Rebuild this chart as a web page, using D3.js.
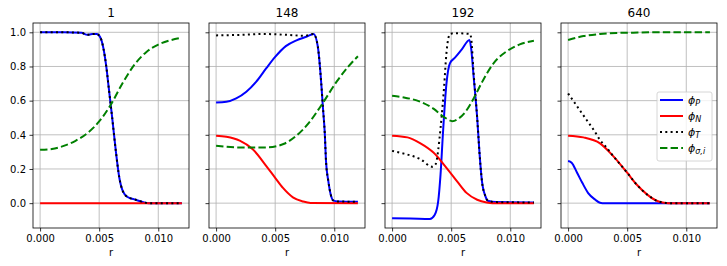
<!DOCTYPE html>
<html><head><meta charset="utf-8">
<script src="https://cdn.jsdelivr.net/npm/d3@7"></script>
<style>body{margin:0;background:#fff}svg{font-family:"DejaVu Sans",sans-serif}</style>
</head><body><svg id="c" width="727" height="266"></svg>
<script>
const titles = ["1", "148", "192", "640"];
const xTicks = [0, 0.005, 0.010];
const yTicks = [0, 0.2, 0.4, 0.6, 0.8, 1.0];
const seriesNames = ["P", "N", "T", "σ,i"];

// Panel 1 (step 1)
const p1_P = [[0,1],[0.002,1],[0.0035,0.997],[0.004,0.985],[0.0044,0.99],[0.0048,0.99],[0.0051,0.97],[0.0056,0.8],[0.0058,0.68],[0.0061,0.5],[0.0064,0.31],[0.0067,0.15],[0.007,0.07],[0.0074,0.036],[0.0081,0.02],[0.0088,0.004],[0.0092,0],[0.012,0]];
const p1_N = [[0,0],[0.012,0]];
const p1_T = p1_P;
const p1_S = [[0,0.312],[0.001,0.317],[0.002,0.335],[0.003,0.365],[0.004,0.41],[0.005,0.478],[0.006,0.578],[0.007,0.705],[0.008,0.812],[0.009,0.885],[0.010,0.928],[0.011,0.953],[0.012,0.968]];

// Panel 2 (step 148)
const p2_P = [[0,0.589],[0.00087,0.593],[0.0017,0.613],[0.00256,0.652],[0.0034,0.711],[0.00425,0.79],[0.005,0.856],[0.0059,0.919],[0.0068,0.953],[0.00763,0.974],[0.00825,0.99],[0.0086,0.92],[0.0089,0.70],[0.00904,0.56],[0.0092,0.405],[0.0093,0.247],[0.0095,0.128],[0.0097,0.05],[0.0099,0.016],[0.0103,0.01],[0.012,0.008]];
const p2_N = [[0,0.395],[0.00087,0.389],[0.002,0.366],[0.0031,0.316],[0.00425,0.217],[0.005,0.148],[0.00566,0.089],[0.0065,0.034],[0.00735,0.01],[0.008,0.001],[0.012,0]];
const p2_T = [[0,0.982],[0.002,0.985],[0.004,0.99],[0.006,0.985],[0.0075,0.98],[0.00825,0.99],[0.0086,0.92],[0.0089,0.70],[0.00904,0.56],[0.0092,0.405],[0.0093,0.247],[0.0095,0.128],[0.0097,0.05],[0.0099,0.016],[0.0103,0.01],[0.012,0.008]];
const p2_S = [[0,0.336],[0.002,0.326],[0.00425,0.326],[0.0057,0.346],[0.0068,0.395],[0.0079,0.474],[0.009,0.583],[0.0102,0.711],[0.0112,0.80],[0.012,0.86]];

// Panel 3 (step 192)
const p3_P = [[0,-0.089],[0.00155,-0.09],[0.0032,-0.093],[0.0036,-0.07],[0.0039,0.01],[0.0041,0.168],[0.0043,0.405],[0.0046,0.70],[0.0049,0.82],[0.0053,0.85],[0.0059,0.90],[0.00655,0.955],[0.0067,0.90],[0.0069,0.74],[0.0072,0.50],[0.0074,0.29],[0.0076,0.13],[0.0079,0.04],[0.0081,0.014],[0.0088,0.006],[0.012,0.004]];
const p3_N = [[0,0.395],[0.0013,0.385],[0.0024,0.35],[0.0035,0.296],[0.0046,0.207],[0.0055,0.128],[0.0063,0.06],[0.0072,0.02],[0.008,0.004],[0.0085,0],[0.012,0]];
const p3_T = [[0,0.306],[0.001,0.29],[0.0024,0.257],[0.0034,0.213],[0.0037,0.23],[0.0039,0.31],[0.0041,0.44],[0.0044,0.68],[0.0046,0.88],[0.0049,0.99],[0.0053,0.995],[0.0066,0.99],[0.0067,0.96],[0.0069,0.76],[0.0072,0.50],[0.0074,0.29],[0.0076,0.13],[0.0079,0.04],[0.0081,0.014],[0.0088,0.006],[0.012,0.004]];
const p3_S = [[0,0.628],[0.001,0.619],[0.0024,0.593],[0.0035,0.553],[0.0044,0.504],[0.0051,0.48],[0.0056,0.494],[0.0062,0.534],[0.0069,0.613],[0.0077,0.72],[0.0086,0.82],[0.0097,0.889],[0.0108,0.929],[0.012,0.95]];

// Panel 4 (step 640)
const p4_P = [[0,0.247],[0.0003,0.237],[0.00076,0.178],[0.0012,0.119],[0.0017,0.059],[0.0023,0.02],[0.0027,0.002],[0.0029,0],[0.012,0]];
const p4_N = [[0,0.395],[0.0013,0.385],[0.0027,0.35],[0.0038,0.277],[0.005,0.178],[0.0058,0.109],[0.0067,0.05],[0.0075,0.014],[0.008,0.004],[0.0085,0],[0.012,0]];
const p4_T = [[0,0.642],[0.0005,0.593],[0.001,0.543],[0.0016,0.484],[0.0022,0.425],[0.0027,0.37],[0.0032,0.33],[0.0038,0.277],[0.005,0.178],[0.0058,0.109],[0.0067,0.05],[0.0075,0.014],[0.008,0.004],[0.0085,0],[0.012,0]];
const p4_S = [[0,0.955],[0.0013,0.978],[0.0027,0.99],[0.0041,0.996],[0.0055,0.998],[0.007,1],[0.012,1]];

const panels = [
  {P:p1_P,N:p1_N,T:p1_T,S:p1_S},
  {P:p2_P,N:p2_N,T:p2_T,S:p2_S},
  {P:p3_P,N:p3_N,T:p3_T,S:p3_S},
  {P:p4_P,N:p4_N,T:p4_T,S:p4_S}
];

const svg = d3.select("#c");
const lefts = [33, 209, 385, 561];
const W = 156, plotTop = 23, plotBottom = 228;
const x = d3.scaleLinear().domain([-0.0006, 0.0126]);
const y = d3.scaleLinear().domain([-0.1455, 1.0545]).range([plotBottom, plotTop]);

const styles = {
  P:{color:"#0000ff", dash:null},
  N:{color:"#ff0000", dash:null},
  T:{color:"#000000", dash:"2,3.3"},
  S:{color:"#008000", dash:"7.4,3.2"}
};
const order = ["P","N","T","S"];

panels.forEach((pd, i) => {
  const L = lefts[i];
  const xs = x.copy().range([L, L + W]);
  const g = svg.append("g");
  g.selectAll(".gx").data(xTicks).enter().append("line")
    .attr("x1", d => xs(d)).attr("x2", d => xs(d)).attr("y1", plotTop).attr("y2", plotBottom)
    .attr("stroke", "#b0b0b0").attr("stroke-width", 0.8);
  g.selectAll(".gy").data(yTicks).enter().append("line")
    .attr("y1", d => y(d)).attr("y2", d => y(d)).attr("x1", L).attr("x2", L + W)
    .attr("stroke", "#b0b0b0").attr("stroke-width", 0.8);
  const clip = "clip" + i;
  svg.append("clipPath").attr("id", clip).append("rect")
    .attr("x", L).attr("y", plotTop).attr("width", W).attr("height", plotBottom - plotTop);
  const lg = g.append("g").attr("clip-path", `url(#${clip})`);
  const line = d3.line().x(d => xs(d[0])).y(d => y(d[1])).curve(d3.curveMonotoneX);
  order.forEach(k => {
    lg.append("path").attr("d", line(pd[k])).attr("fill", "none")
      .attr("stroke", styles[k].color).attr("stroke-width", 2)
      .attr("stroke-dasharray", styles[k].dash);
  });
  const ax = g.append("g").attr("transform", `translate(0,${plotBottom})`)
    .call(d3.axisBottom(xs).tickValues(xTicks).tickFormat(d3.format(".3f")).tickSize(3.5).tickPadding(3.5));
  const ay = g.append("g").attr("transform", `translate(${L},0)`)
    .call(d3.axisLeft(y).tickValues(yTicks).tickFormat(i === 0 ? d3.format(".1f") : () => "").tickSize(3.5).tickPadding(3.5));
  [ax, ay].forEach(a => {
    a.select(".domain").remove();
    a.selectAll("line").attr("stroke", "#000").attr("stroke-width", 0.8);
    a.selectAll("text").attr("font-size", 10).attr("fill", "#000").attr("font-family", "DejaVu Sans");
  });
  g.append("rect").attr("x", L).attr("y", plotTop).attr("width", W).attr("height", plotBottom - plotTop)
    .attr("fill", "none").attr("stroke", "#000").attr("stroke-width", 0.8);
  g.append("text").attr("x", L + W / 2).attr("y", 17).attr("text-anchor", "middle")
    .attr("font-size", 12).attr("fill", "#000").text(titles[i]);
  g.append("text").attr("x", L + W / 2).attr("y", 256).attr("text-anchor", "middle")
    .attr("font-size", 10).attr("fill", "#000").text("r");
});

const lgx = 657, lgy = 92;
const leg = svg.append("g");
leg.append("rect").attr("x", lgx).attr("y", lgy).attr("width", 55).attr("height", 69).attr("rx", 2)
  .attr("fill", "#fff").attr("fill-opacity", 0.8).attr("stroke", "#cccccc").attr("stroke-width", 0.8);
order.forEach((k, j) => {
  const yy = lgy + 8 + j * 16;
  leg.append("line").attr("x1", lgx + 3).attr("x2", lgx + 26).attr("y1", yy).attr("y2", yy)
    .attr("stroke", styles[k].color).attr("stroke-width", 2).attr("stroke-dasharray", styles[k].dash);
  const t = leg.append("text").attr("x", lgx + 31).attr("y", yy + 4).attr("font-size", 11).attr("fill", "#000");
  t.append("tspan").attr("font-style", "italic").text("ϕ");
  t.append("tspan").attr("font-style", "italic").attr("font-size", 8).attr("dy", 2).text(seriesNames[j]);
});
</script></body></html>
